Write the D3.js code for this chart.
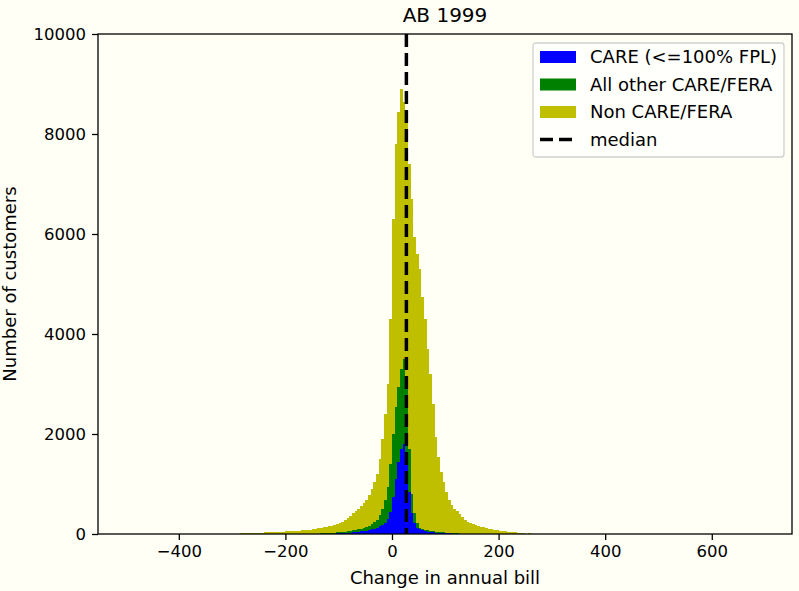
<!DOCTYPE html>
<html>
<head>
<meta charset="utf-8">
<script src="https://cdn.jsdelivr.net/npm/d3@7"></script>
<style>
  body { margin: 0; background: #fffff5; }
  svg { display: block; font-family: "DejaVu Sans", sans-serif; }
</style>
</head>
<body>
<div id="chart"></div>
<script>
// histogram bins: first lower edge and width (change in annual bill, $)
var binStart = -290, binWidth = 5;

// customers per bin
var care = [
  0,0,0,0,0,0,0,0,0,0, 0,0,0,0,0,0,0,0,0,0, 0,0,0,0,0,0,0,0,0,0,
  2,3,4,5,6,8,10,12,15,18,
  22,26,30,35,40,45,52,60,70,80,
  95,110,130,155,190,230,300,450,750,1100,
  1450,1700,1800,1450,850,420,230,130,95,75,
  60,50,42,36,30,26,22,18,15,12,
  10,8,6,5,4,3,2,0,0,0,
  0,0,0,0,0,0,0,0,0,0, 0,0,0,0,0,0,0,0,0,0, 0,0
];
var otherCare = [
  0,0,0,0,0,0,0,0,0,0, 0,0,0,0,0,0,0,0,0,0, 0,0,0,0,0,0,0,0,5,8,
  8,9,11,13,14,17,20,23,25,27,
  28,29,35,40,45,50,53,60,70,85,
  105,130,160,225,310,450,650,950,1250,1450,
  1500,1600,1700,1550,850,380,190,90,35,25,
  25,25,23,19,20,19,18,17,15,13,
  10,7,6,5,4,3,3,0,0,0,
  0,0,0,0,0,0,0,0,0,0, 0,0,0,0,0,0,0,0,0,0, 0,0
];
var nonCare = [
  10,15,20,15,20,25,25,30,30,30,
  35,35,40,40,45,45,50,50,55,55,
  60,65,65,70,75,80,85,90,95,97,
  105,113,120,127,135,145,160,175,190,205,
  230,265,305,345,375,405,455,500,540,615,
  700,810,910,1120,1400,1720,2050,2900,4300,5250,
  5500,5600,5150,5250,5700,5900,5530,5380,5170,4650,
  4215,3625,3135,2545,1900,1505,1210,1015,820,655,
  560,485,448,390,332,284,245,220,200,180,
  160,150,140,120,105,95,85,75,65,60,
  55,50,45,40,35,25,20,15,10,20,
  5,0
];
var medianValue = 27;

var seriesKeys = ["care", "other", "non"];
var seriesNames = ["CARE (<=100% FPL)", "All other CARE/FERA", "Non CARE/FERA"];
var seriesColors = ["#0000ff", "#008000", "#bfbf00"];
var xTicks = [-400, -200, 0, 200, 400, 600];
var yTicks = [0, 2000, 4000, 6000, 8000, 10000];

var width = 799, height = 591;
var plot = {left: 98, right: 792, top: 34, bottom: 534};

var svg = d3.select("#chart").append("svg")
    .attr("width", width)
    .attr("height", height);

svg.append("rect")
    .attr("width", width).attr("height", height)
    .attr("fill", "#fffff5");

var x = d3.scaleLinear().domain([-551.6, 750.5]).range([plot.left, plot.right]);
var y = d3.scaleLinear().domain([0, 10000]).range([plot.bottom, plot.top]);

var bins = care.map(function(d, i) {
  return {x0: binStart + i * binWidth, care: care[i], other: otherCare[i], non: nonCare[i]};
});
// closing edge so the last step has a width
var last = bins[bins.length - 1];
bins.push({x0: last.x0 + binWidth, care: last.care, other: last.other, non: last.non});

var stacked = d3.stack().keys(seriesKeys)(bins);

var area = d3.area()
    .curve(d3.curveStepAfter)
    .x(function(d) { return x(d.data.x0); })
    .y0(function(d) { return y(d[0]); })
    .y1(function(d) { return y(d[1]); });

svg.append("g")
  .selectAll("path")
  .data(stacked)
  .enter().append("path")
    .attr("d", area)
    .attr("shape-rendering", "crispEdges")
    .attr("fill", function(d, i) { return seriesColors[i]; });

// median line
svg.append("line")
    .attr("x1", x(medianValue)).attr("x2", x(medianValue))
    .attr("y1", plot.top).attr("y2", plot.bottom)
    .attr("stroke", "#000")
    .attr("stroke-width", 3.5)
    .attr("stroke-dasharray", "13,6");

// axes
var xAxis = svg.append("g")
    .attr("transform", "translate(0," + plot.bottom + ")")
    .call(d3.axisBottom(x).tickValues(xTicks).tickSize(6).tickPadding(5));
var yAxis = svg.append("g")
    .attr("transform", "translate(" + plot.left + ",0)")
    .call(d3.axisLeft(y).tickValues(yTicks).tickSize(6).tickPadding(6).tickFormat(d3.format("d")));

[xAxis, yAxis].forEach(function(g) {
  g.select(".domain").remove();
  g.selectAll(".tick line").attr("stroke", "#000").attr("stroke-width", 1.3);
  g.selectAll(".tick text")
    .attr("fill", "#000")
    .style("font-size", "16.5px")
    .style("font-family", "DejaVu Sans");
});

svg.append("rect")
    .attr("x", plot.left).attr("y", plot.top)
    .attr("width", plot.right - plot.left)
    .attr("height", plot.bottom - plot.top)
    .attr("fill", "none")
    .attr("stroke", "#000")
    .attr("stroke-width", 1.3);

// labels
svg.append("text")
    .attr("x", (plot.left + plot.right) / 2).attr("y", 22)
    .attr("text-anchor", "middle")
    .style("font-size", "20px")
    .text("AB 1999");

svg.append("text")
    .attr("x", (plot.left + plot.right) / 2).attr("y", 584)
    .attr("text-anchor", "middle")
    .style("font-size", "18px")
    .text("Change in annual bill");

svg.append("text")
    .attr("transform", "translate(16," + (plot.top + plot.bottom) / 2 + ") rotate(-90)")
    .attr("text-anchor", "middle")
    .style("font-size", "18px")
    .text("Number of customers");

// legend
var legend = svg.append("g").attr("transform", "translate(533,43)");
legend.append("rect")
    .attr("width", 251).attr("height", 114)
    .attr("rx", 3)
    .attr("fill", "#fffffb")
    .attr("stroke", "#d0d0d0")
    .attr("stroke-width", 1.3);

var rowY = [14, 41.5, 69, 96.5];
seriesNames.forEach(function(name, i) {
  legend.append("rect")
      .attr("x", 7).attr("y", rowY[i] - 6)
      .attr("width", 36).attr("height", 12)
      .attr("fill", seriesColors[i]);
  legend.append("text")
      .attr("x", 57).attr("y", rowY[i])
      .attr("dy", "0.35em")
      .style("font-size", "18px")
      .text(name);
});
legend.append("line")
    .attr("x1", 7).attr("x2", 43)
    .attr("y1", rowY[3]).attr("y2", rowY[3])
    .attr("stroke", "#000")
    .attr("stroke-width", 3.5)
    .attr("stroke-dasharray", "13,6");
legend.append("text")
    .attr("x", 57).attr("y", rowY[3])
    .attr("dy", "0.35em")
    .style("font-size", "18px")
    .text("median");
</script>
</body>
</html>
